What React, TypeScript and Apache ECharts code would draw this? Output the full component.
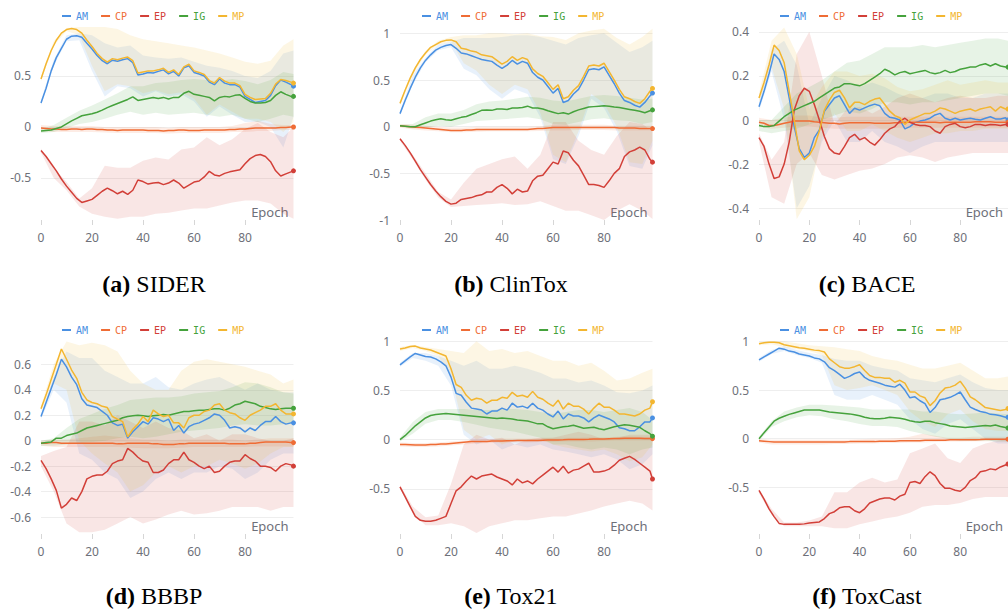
import React, { useEffect, useRef } from "react";
import * as echarts from "echarts";

// ---------- DATA ----------
const LINE_EPOCHS = [0,2,4,6,8,10,12,14,16,18,20,22,24,26,28,30,32,34,36,38,40,42,44,46,48,50,52,54,56,58,60,62,64,66,68,70,72,74,76,78,80,82,84,86,88,90,92,94,96,98,99];
const BAND_EPOCHS = [0,5,10,15,20,25,30,35,40,45,50,55,60,65,70,75,80,85,90,95,99];
const METHODS = ["AM", "CP", "EP", "IG", "MP"];
const X_TICKS = [0, 20, 40, 60, 80];

// (a) SIDER
const SIDER_AM = [.235,.38,.55,.68,.77,.86,.89,.895,.88,.82, .765,.70,.65,.62,.655,.645,.66,.67,.63,.51, .52,.535,.53,.545,.56,.52,.545,.50,.58,.60, .535,.52,.50,.44,.415,.47,.43,.415,.415,.39, .30,.27,.24,.25,.26,.31,.405,.46,.44,.415, .40];
const SIDER_MP = [.47,.62,.75,.85,.92,.955,.965,.955,.92,.85, .79,.72,.67,.635,.67,.66,.675,.685,.65,.53, .54,.55,.55,.56,.575,.535,.56,.515,.59,.615, .55,.535,.515,.455,.43,.485,.45,.43,.43,.405, .32,.29,.27,.275,.28,.33,.42,.465,.455,.44, .43];
const SIDER_IG = [-.04,-.035,-.03,-.015,0,.03,.06,.085,.11,.12, .13,.145,.165,.19,.21,.23,.25,.27,.295,.26, .27,.28,.29,.28,.29,.275,.29,.29,.33,.35, .32,.31,.30,.29,.255,.29,.30,.295,.31,.315, .28,.25,.235,.235,.24,.26,.31,.345,.32,.30, .30];
const SIDER_CP = [-.01,-.015,-.02,-.02,-.025,-.025,-.02,-.02,-.025,-.02, -.02,-.025,-.025,-.03,-.03,-.035,-.03,-.03,-.03,-.03, -.03,-.035,-.035,-.035,-.04,-.035,-.035,-.03,-.03,-.035, -.035,-.035,-.03,-.03,-.03,-.03,-.03,-.025,-.025,-.02, -.02,-.015,-.01,-.01,-.01,-.01,-.01,-.005,-.005,0, 0];
const SIDER_EP = [-.23,-.29,-.36,-.43,-.51,-.58,-.64,-.70,-.74,-.725, -.71,-.67,-.63,-.60,-.625,-.655,-.63,-.66,-.62,-.52, -.535,-.56,-.55,-.545,-.565,-.55,-.52,-.55,-.60,-.57, -.54,-.53,-.49,-.435,-.47,-.48,-.455,-.44,-.43,-.42, -.36,-.31,-.28,-.27,-.29,-.34,-.43,-.48,-.46,-.44, -.43];
const SIDER_AM_LO = [.21,.60,.84,.85,.55,.30,.40,.38,.30,.35,.30,.32,.25,.10,.20,.12,.05,.05,0,-.20,.10];
const SIDER_AM_HI = [.26,.66,.90,.92,.90,.82,.78,.80,.70,.68,.67,.68,.64,.60,.58,.55,.50,.48,.55,.72,.75];
const SIDER_MP_LO = [.45,.80,.94,.90,.60,.35,.42,.40,.33,.36,.32,.34,.28,.12,.22,.15,.08,.08,.05,-.05,.05];
const SIDER_MP_HI = [.49,.84,.97,.98,.98,.98,.96,.90,.86,.84,.82,.80,.78,.75,.72,.68,.64,.62,.65,.80,.86];
const SIDER_IG_LO = [-.06,-.05,-.01,.03,.05,.08,.12,.15,.12,.14,.12,.13,.14,.12,.10,.12,.08,.05,.08,.12,.10];
const SIDER_IG_HI = [-.02,.02,.09,.16,.21,.27,.33,.40,.40,.43,.44,.46,.47,.46,.45,.47,.45,.42,.46,.54,.52];
const SIDER_CP_LO = [-.04,-.05,-.05,-.05,-.05,-.055,-.06,-.06,-.06,-.06,-.065,-.06,-.06,-.06,-.06,-.05,-.05,-.04,-.04,-.03,-.03];
const SIDER_CP_HI = [.02,.01,.01,.01,.01,0,0,0,0,0,-.01,0,0,0,0,.01,.04,.06,.03,.02,.02];
const SIDER_EP_LO = [-.25,-.50,-.62,-.78,-.85,-.88,-.90,-.88,-.88,-.85,-.84,-.82,-.80,-.80,-.77,-.74,-.72,-.72,-.75,-.85,-.90];
const SIDER_EP_HI = [-.21,-.40,-.54,-.70,-.60,-.38,-.40,-.40,-.33,-.30,-.32,-.22,-.20,-.10,-.18,-.12,-.02,.04,-.05,-.10,0];

// (b) ClinTox
const CLINTOX_AM = [.14,.28,.41,.53,.63,.71,.77,.82,.85,.87, .88,.84,.79,.78,.76,.74,.72,.71,.70,.66, .625,.66,.71,.67,.70,.68,.58,.53,.50,.43, .36,.41,.26,.28,.35,.40,.50,.61,.62,.61, .64,.55,.46,.36,.28,.26,.23,.21,.26,.33, .36];
const CLINTOX_MP = [.25,.39,.52,.63,.72,.79,.85,.88,.91,.925, .93,.91,.84,.83,.81,.80,.77,.76,.75,.71, .67,.70,.75,.71,.74,.72,.62,.57,.54,.47, .40,.45,.30,.32,.39,.44,.54,.65,.66,.65, .68,.59,.50,.40,.32,.30,.27,.25,.30,.38, .41];
const CLINTOX_IG = [.01,.005,0,0,.02,.04,.06,.075,.085,.075, .07,.085,.10,.11,.13,.15,.175,.18,.175,.19, .19,.185,.20,.20,.205,.22,.20,.20,.19,.17, .155,.14,.15,.135,.16,.18,.195,.21,.215,.22, .225,.22,.21,.205,.195,.185,.175,.165,.15,.17, .18];
const CLINTOX_CP = [.01,.005,0,-.005,-.01,-.015,-.02,-.025,-.03,-.035, -.04,-.04,-.04,-.035,-.035,-.03,-.03,-.03,-.03,-.03, -.03,-.03,-.03,-.03,-.03,-.03,-.025,-.02,-.02,-.015, -.01,-.01,-.01,-.01,-.01,-.01,-.01,-.01,-.01,-.01, -.01,-.01,-.01,-.015,-.015,-.015,-.015,-.02,-.02,-.02, -.02];
const CLINTOX_EP = [-.13,-.20,-.28,-.37,-.46,-.54,-.62,-.69,-.75,-.80, -.83,-.82,-.78,-.77,-.76,-.74,-.73,-.70,-.70,-.65, -.62,-.66,-.72,-.67,-.70,-.69,-.58,-.53,-.52,-.45, -.38,-.40,-.26,-.28,-.36,-.42,-.52,-.62,-.62,-.63, -.65,-.58,-.50,-.45,-.32,-.27,-.25,-.22,-.25,-.35, -.38];
const CLINTOX_AM_LO = [.12,.45,.69,.82,.85,.62,.55,.40,.30,.40,.35,.10,-.35,-.40,-.10,.30,.20,-.05,-.42,-.45,-.20];
const CLINTOX_AM_HI = [.16,.55,.74,.88,.91,.95,.95,.95,.96,.98,.98,.96,.92,.88,.95,.98,1.0,.90,.80,.85,.92];
const CLINTOX_MP_LO = [.23,.55,.77,.88,.91,.68,.60,.45,.35,.45,.40,.15,-.30,-.38,-.05,.35,.25,0,-.38,-.40,-.15];
const CLINTOX_MP_HI = [.27,.60,.81,.92,.96,.98,.98,1.0,1.0,.99,1.0,.97,.96,.93,1.0,1.03,1.05,.95,.88,.96,1.05];
const CLINTOX_IG_LO = [0,-.02,-.01,.01,0,.03,.06,.07,.08,.09,.10,.08,.03,.02,.05,.08,.09,.07,.06,.03,.05];
const CLINTOX_IG_HI = [.02,.03,.10,.14,.14,.18,.24,.27,.28,.30,.32,.31,.28,.27,.30,.33,.34,.33,.31,.29,.30];
const CLINTOX_CP_LO = [-.01,-.03,-.04,-.05,-.06,-.06,-.055,-.05,-.05,-.05,-.05,-.045,-.04,-.04,-.035,-.035,-.035,-.04,-.04,-.04,-.04];
const CLINTOX_CP_HI = [.03,.02,.01,0,-.01,-.01,0,0,0,0,0,.005,.02,.02,.02,.02,.02,.01,.01,.01,.01];
const CLINTOX_EP_LO = [-.15,-.35,-.57,-.76,-.86,-.85,-.84,-.83,-.82,-.84,-.83,-.80,-.85,-.90,-.90,-.95,-1.0,-.90,-.83,-.90,-.99];
const CLINTOX_EP_HI = [-.12,-.30,-.50,-.70,-.78,-.60,-.45,-.40,-.35,-.32,-.45,-.30,.05,.05,-.15,-.25,-.30,-.10,.05,.03,-.05];

// (c) BACE
const BACE_AM = [.06,.13,.21,.30,.275,.22,.10,-.03,-.13,-.17, -.15,-.08,-.045,.04,.07,.10,.11,.07,.03,.053, .045,.055,.065,.072,.065,.03,.012,.008,0,-.04, -.03,-.012,-.005,0,.008,.023,.03,.008,0,.008, 0,.005,.008,.003,0,.008,.015,.005,.005,.01, 0];
const BACE_MP = [.10,.17,.25,.34,.315,.26,.13,0,-.14,-.18, -.16,-.12,-.05,.045,.09,.125,.135,.10,.055,.08, .08,.07,.085,.095,.10,.07,.04,.02,.01,-.02, 0,.01,.02,.03,.03,.04,.055,.05,.04,.03, .04,.045,.05,.04,.05,.055,.06,.04,.06,.05, .05];
const BACE_IG = [-.025,-.03,-.03,-.025,-.005,.015,.03,.045,.055,.065, .075,.085,.10,.115,.13,.145,.15,.165,.165,.16, .155,.165,.18,.195,.21,.23,.22,.205,.215,.22, .21,.215,.22,.225,.215,.21,.215,.225,.215,.22, .23,.235,.24,.24,.25,.255,.245,.255,.245,.24, .24];
const BACE_CP = [-.01,-.015,-.025,-.025,-.02,-.015,-.01,-.005,-.005,-.005, -.005,-.008,-.01,-.012,-.015,-.015,-.018,-.015,-.012,-.012, -.012,-.012,-.012,-.015,-.015,-.015,-.015,-.012,-.012,-.01, -.01,-.01,-.01,-.01,-.01,-.01,-.012,-.01,-.01,-.01, -.01,-.01,-.01,-.008,-.008,-.008,-.008,-.01,-.01,-.01, -.01];
const BACE_EP = [-.08,-.12,-.20,-.265,-.258,-.20,-.10,.045,.11,.144, .13,.07,0,-.075,-.13,-.15,-.155,-.12,-.08,-.065, -.09,-.08,-.10,-.114,-.09,-.06,-.04,-.03,-.005,.008, -.01,-.02,-.025,-.025,-.03,-.05,-.06,-.03,-.02,-.015, -.03,-.035,-.03,-.02,-.02,-.025,-.02,-.022,-.025,-.02, -.02];
const BACE_AM_LO = [.04,.22,0,-.40,-.30,-.10,0,-.10,-.10,-.05,-.10,-.12,-.15,-.12,-.10,-.10,-.10,-.10,-.10,-.10,-.10];
const BACE_AM_HI = [.08,.32,.36,.25,-.02,.10,.20,.18,.15,.17,.15,.12,.10,.10,.12,.12,.10,.10,.12,.12,.12];
const BACE_MP_LO = [.08,.24,.05,-.45,-.35,-.08,.03,-.05,-.05,-.02,-.05,-.08,-.10,-.08,-.06,-.06,-.05,-.05,-.04,-.04,-.04];
const BACE_MP_HI = [.12,.36,.42,.30,.05,.15,.22,.22,.20,.21,.19,.15,.13,.14,.16,.18,.16,.17,.18,.17,.17];
const BACE_IG_LO = [-.05,-.06,-.05,-.04,-.02,0,.02,.04,.03,.05,.08,.08,.07,.08,.08,.09,.10,.11,.12,.12,.11];
const BACE_IG_HI = [0,0,.06,.12,.15,.18,.22,.26,.27,.30,.33,.33,.33,.34,.33,.34,.35,.36,.37,.37,.36];
const BACE_CP_LO = [-.03,-.04,-.035,-.03,-.03,-.035,-.04,-.04,-.04,-.04,-.04,-.035,-.035,-.035,-.035,-.035,-.035,-.035,-.035,-.035,-.035];
const BACE_CP_HI = [.01,0,.01,.02,.02,.01,.01,.015,.015,.015,.015,.015,.015,.015,.015,.015,.015,.015,.015,.015,.015];
const BACE_EP_LO = [-.10,-.35,-.38,-.20,-.15,-.25,-.27,-.25,-.23,-.22,-.20,-.17,-.16,-.17,-.19,-.17,-.16,-.15,-.15,-.15,-.15];
const BACE_EP_HI = [-.06,-.18,-.10,.30,.40,.20,-.02,.05,.06,.03,.06,.10,.12,.10,.08,.10,.11,.10,.10,.11,.11];

// (d) BBBP
const BBBP_AM = [.19,.30,.41,.52,.64,.58,.50,.44,.33,.28, .27,.26,.23,.20,.14,.12,.13,.02,.07,.11, .15,.13,.18,.17,.15,.17,.08,.12,.06,.11, .13,.14,.16,.18,.21,.20,.16,.10,.11,.10, .07,.10,.08,.12,.15,.15,.19,.15,.13,.14, .14];
const BBBP_MP = [.25,.36,.48,.60,.72,.64,.555,.49,.38,.32, .30,.29,.27,.26,.19,.17,.15,.03,.09,.13, .19,.15,.24,.21,.19,.20,.14,.14,.10,.18, .20,.20,.23,.24,.28,.29,.24,.22,.21,.18, .16,.20,.22,.24,.27,.27,.29,.24,.21,.21, .21];
const BBBP_IG = [-.02,-.015,-.01,.02,.02,.04,.05,.06,.08,.10, .11,.12,.13,.14,.15,.16,.18,.19,.195,.20, .195,.19,.195,.20,.205,.20,.21,.22,.23,.23, .235,.24,.24,.245,.25,.25,.24,.255,.28,.29, .31,.30,.29,.27,.26,.25,.245,.25,.255,.255, .255];
const BBBP_CP = [-.02,-.02,-.015,-.015,-.02,-.02,-.02,-.02,-.02,-.02, -.02,-.02,-.02,-.02,-.02,-.025,-.025,-.02,-.02,-.02, -.02,-.02,-.025,-.025,-.03,-.03,-.03,-.025,-.025,-.02, -.02,-.02,-.02,-.02,-.02,-.02,-.02,-.025,-.025,-.025, -.025,-.02,-.02,-.015,-.01,-.01,-.01,-.01,-.01,-.015, -.015];
const BBBP_EP = [-.155,-.22,-.30,-.39,-.53,-.50,-.45,-.47,-.40,-.30, -.28,-.27,-.27,-.24,-.18,-.16,-.15,-.06,-.09,-.13, -.16,-.17,-.25,-.25,-.23,-.18,-.15,-.15,-.09,-.15, -.17,-.20,-.22,-.20,-.25,-.24,-.20,-.17,-.16,-.16, -.11,-.14,-.16,-.20,-.20,-.21,-.24,-.20,-.18,-.19, -.20];
const BBBP_AM_LO = [.17,.40,.30,-.10,-.15,-.25,-.30,-.45,-.40,-.30,-.25,-.30,-.25,-.25,-.20,-.22,-.30,-.25,-.15,-.10,-.10];
const BBBP_AM_HI = [.21,.50,.70,.65,.65,.55,.50,.45,.45,.50,.42,.40,.45,.48,.50,.45,.40,.45,.40,.38,.38];
const BBBP_MP_LO = [.23,.45,.40,0,-.10,-.18,-.25,-.40,-.35,-.25,-.20,-.25,-.20,-.20,-.15,-.18,-.22,-.18,-.10,-.05,-.05];
const BBBP_MP_HI = [.27,.60,.78,.75,.77,.75,.70,.55,.45,.40,.40,.55,.62,.64,.62,.60,.58,.55,.52,.45,.48];
const BBBP_IG_LO = [-.04,-.04,-.03,-.02,-.01,0,.02,.03,.02,.03,.05,.07,.08,.09,.10,.12,.13,.12,.12,.13,.14];
const BBBP_IG_HI = [0,.02,.10,.17,.21,.25,.28,.32,.33,.34,.34,.35,.37,.38,.39,.42,.46,.45,.42,.38,.37];
const BBBP_CP_LO = [-.04,-.05,-.05,-.05,-.05,-.05,-.05,-.055,-.06,-.06,-.06,-.055,-.05,-.05,-.05,-.05,-.05,-.045,-.045,-.045,-.045];
const BBBP_CP_HI = [0,.01,.01,.02,.03,.04,.03,.02,.01,.01,0,.01,.01,.01,.01,.01,0,.01,.02,.02,.02];
const BBBP_EP_LO = [-.20,-.40,-.65,-.72,-.72,-.70,-.65,-.60,-.65,-.62,-.58,-.55,-.58,-.57,-.55,-.52,-.52,-.52,-.55,-.52,-.52];
const BBBP_EP_HI = [-.12,-.08,-.05,.15,.15,.12,.20,.15,.10,.15,.10,.08,.02,.05,0,.05,.05,.02,0,0,.02];

// (e) Tox21
const TOX21_AM = [.76,.80,.84,.875,.86,.845,.84,.82,.79,.75, .635,.47,.45,.38,.32,.31,.30,.26,.29,.29, .32,.30,.37,.33,.34,.32,.37,.32,.30,.26, .23,.29,.21,.26,.24,.24,.22,.18,.22,.25, .23,.21,.18,.12,.11,.09,.09,.13,.18,.18, .22];
const TOX21_MP = [.92,.93,.945,.95,.93,.92,.91,.89,.87,.85, .72,.56,.53,.45,.40,.42,.41,.37,.40,.40, .43,.42,.48,.44,.45,.43,.49,.43,.41,.37, .34,.40,.31,.37,.34,.34,.31,.26,.32,.37, .33,.33,.30,.26,.26,.25,.24,.26,.30,.32, .385];
const TOX21_IG = [0,.04,.09,.14,.18,.22,.245,.255,.26,.265, .26,.255,.25,.245,.24,.235,.23,.225,.22,.215, .22,.215,.21,.20,.195,.19,.175,.16,.16,.13, .11,.12,.13,.135,.145,.13,.115,.12,.125,.11, .10,.115,.13,.14,.15,.145,.135,.125,.09,.06, .035];
const TOX21_CP = [-.05,-.05,-.052,-.055,-.055,-.055,-.05,-.05,-.045,-.045, -.04,-.035,-.03,-.025,-.02,-.02,-.02,-.018,-.015,-.015, -.015,-.012,-.012,-.01,-.01,-.01,-.008,-.008,-.006,-.005, -.005,-.003,-.002,0,0,0,.002,.003,.005,.005, .005,.008,.01,.012,.015,.015,.015,.015,.012,.01, .01];
const TOX21_EP = [-.48,-.58,-.68,-.78,-.82,-.83,-.83,-.82,-.80,-.78, -.65,-.52,-.48,-.42,-.37,-.40,-.37,-.36,-.35,-.38, -.40,-.42,-.46,-.40,-.44,-.42,-.45,-.40,-.36,-.32, -.28,-.33,-.27,-.34,-.31,-.30,-.27,-.24,-.33,-.33, -.32,-.30,-.26,-.21,-.19,-.17,-.20,-.24,-.28,-.32, -.40];
const TOX21_AM_LO = [.74,.83,.80,.75,.55,.05,-.05,0,-.10,-.05,-.08,-.05,-.10,-.12,-.15,-.18,-.15,-.20,-.30,-.25,-.15];
const TOX21_AM_HI = [.78,.88,.88,.85,.80,.75,.80,.72,.72,.75,.72,.68,.62,.62,.58,.60,.55,.48,.47,.50,.55];
const TOX21_MP_LO = [.90,.93,.90,.85,.65,.10,0,.05,-.05,0,-.02,0,-.05,-.08,-.10,-.12,-.10,-.15,-.22,-.18,-.05];
const TOX21_MP_HI = [.94,.96,.94,.92,.90,.88,1.0,.90,.92,.88,.90,.85,.80,.80,.75,.78,.70,.60,.62,.68,.72];
const TOX21_IG_LO = [-.02,.06,.16,.20,.20,.18,.15,.12,.10,.08,.05,.02,-.05,-.05,-.08,-.10,-.08,-.10,-.15,-.10,-.08];
const TOX21_IG_HI = [.02,.18,.28,.31,.31,.31,.30,.30,.31,.31,.30,.28,.26,.28,.30,.30,.28,.30,.32,.28,.20];
const TOX21_CP_LO = [-.07,-.075,-.075,-.07,-.06,-.05,-.04,-.035,-.03,-.03,-.03,-.025,-.025,-.02,-.02,-.02,-.015,-.01,-.01,-.01,-.01];
const TOX21_CP_HI = [-.03,-.035,-.035,-.03,-.02,-.01,0,.005,.01,.01,.01,.015,.02,.02,.02,.025,.025,.03,.035,.03,.03];
const TOX21_EP_LO = [-.50,-.75,-.87,-.87,-.85,-.88,-.95,-.88,-.85,-.82,-.82,-.80,-.78,-.78,-.75,-.72,-.68,-.65,-.62,-.65,-.72];
const TOX21_EP_HI = [-.46,-.68,-.79,-.77,-.45,-.05,.05,0,.02,-.05,0,.02,.02,.05,.08,.05,0,.02,.05,.05,.05];

// (f) ToxCast
const TOXCAST_AM = [.81,.84,.87,.90,.93,.92,.90,.89,.87,.86, .85,.83,.82,.79,.73,.70,.66,.62,.64,.67, .685,.63,.60,.585,.57,.55,.54,.53,.56,.50, .42,.43,.39,.36,.27,.32,.40,.41,.425,.45, .48,.40,.325,.30,.28,.27,.25,.245,.235,.22, .22];
const TOXCAST_MP = [.975,.985,.99,.99,.985,.965,.955,.945,.935,.93, .92,.91,.905,.89,.82,.78,.74,.725,.725,.74, .76,.70,.65,.63,.63,.62,.62,.58,.60,.57, .48,.48,.44,.42,.34,.39,.47,.52,.53,.55, .59,.52,.43,.40,.36,.32,.31,.30,.29,.30, .31];
const TOXCAST_IG = [0,.06,.12,.18,.21,.23,.25,.265,.28,.295, .295,.295,.295,.285,.275,.27,.265,.26,.255,.245, .235,.22,.21,.205,.205,.21,.22,.215,.21,.20, .185,.175,.17,.18,.18,.165,.155,.145,.13,.125, .12,.115,.12,.125,.13,.135,.13,.14,.125,.115, .11];
const TOXCAST_CP = [-.02,-.025,-.03,-.035,-.035,-.035,-.035,-.035,-.035,-.035, -.035,-.035,-.035,-.035,-.035,-.035,-.035,-.035,-.03,-.03, -.03,-.03,-.03,-.03,-.025,-.025,-.025,-.025,-.02,-.02, -.02,-.02,-.02,-.015,-.015,-.015,-.015,-.015,-.01,-.01, -.01,-.01,-.01,-.01,-.008,-.005,-.005,-.005,-.005,-.005, -.005];
const TOXCAST_EP = [-.53,-.62,-.72,-.80,-.87,-.88,-.88,-.88,-.88,-.875, -.865,-.86,-.855,-.82,-.77,-.75,-.71,-.70,-.70,-.74, -.76,-.72,-.66,-.64,-.62,-.61,-.61,-.63,-.59,-.57, -.45,-.44,-.46,-.39,-.34,-.38,-.46,-.51,-.51,-.53, -.54,-.50,-.43,-.40,-.34,-.33,-.31,-.32,-.29,-.27, -.26];
const TOXCAST_AM_LO = [.79,.87,.90,.86,.83,.78,.45,.40,.40,.45,.40,.35,.20,.10,.05,.15,.20,.10,0,-.05,-.05];
const TOXCAST_AM_HI = [.83,.91,.95,.91,.88,.86,.82,.80,.80,.75,.72,.70,.62,.60,.58,.62,.66,.58,.52,.50,.50];
const TOXCAST_MP_LO = [.96,.97,.94,.92,.90,.86,.55,.50,.52,.55,.50,.45,.28,.18,.12,.25,.30,.18,.10,.08,.08];
const TOXCAST_MP_HI = [.99,1.0,1.0,.98,.96,.95,.94,.92,.90,.85,.82,.80,.76,.72,.72,.75,.78,.70,.62,.62,.64];
const TOXCAST_IG_LO = [-.02,.12,.18,.22,.24,.23,.20,.18,.15,.13,.13,.12,.08,.05,.02,0,-.02,-.02,-.02,-.03,-.03];
const TOXCAST_IG_HI = [.02,.18,.28,.32,.35,.35,.34,.33,.32,.30,.30,.30,.30,.28,.28,.26,.25,.26,.27,.26,.25];
const TOXCAST_CP_LO = [-.04,-.06,-.06,-.06,-.06,-.06,-.055,-.055,-.05,-.05,-.045,-.045,-.04,-.04,-.035,-.03,-.03,-.025,-.025,-.025,-.025];
const TOXCAST_CP_HI = [0,-.01,-.01,-.01,-.01,-.01,-.01,-.01,-.005,0,0,.005,.02,.05,.03,.01,.01,.02,.02,.02,.02];
const TOXCAST_EP_LO = [-.56,-.78,-.90,-.90,-.90,-.90,-.92,-.92,-.88,-.85,-.82,-.80,-.76,-.70,-.68,-.68,-.66,-.62,-.60,-.60,-.60];
const TOXCAST_EP_HI = [-.52,-.72,-.86,-.86,-.84,-.80,-.55,-.55,-.45,-.40,-.45,-.42,-.15,-.10,-.05,-.20,-.25,-.10,-.05,-.02,0];

const PANELS = [
  { tag: "a", name: "SIDER",
    lines: { AM: SIDER_AM, CP: SIDER_CP, EP: SIDER_EP, IG: SIDER_IG, MP: SIDER_MP },
    bands: { AM: [SIDER_AM_LO, SIDER_AM_HI], CP: [SIDER_CP_LO, SIDER_CP_HI], EP: [SIDER_EP_LO, SIDER_EP_HI], IG: [SIDER_IG_LO, SIDER_IG_HI], MP: [SIDER_MP_LO, SIDER_MP_HI] } },
  { tag: "b", name: "ClinTox",
    lines: { AM: CLINTOX_AM, CP: CLINTOX_CP, EP: CLINTOX_EP, IG: CLINTOX_IG, MP: CLINTOX_MP },
    bands: { AM: [CLINTOX_AM_LO, CLINTOX_AM_HI], CP: [CLINTOX_CP_LO, CLINTOX_CP_HI], EP: [CLINTOX_EP_LO, CLINTOX_EP_HI], IG: [CLINTOX_IG_LO, CLINTOX_IG_HI], MP: [CLINTOX_MP_LO, CLINTOX_MP_HI] } },
  { tag: "c", name: "BACE",
    lines: { AM: BACE_AM, CP: BACE_CP, EP: BACE_EP, IG: BACE_IG, MP: BACE_MP },
    bands: { AM: [BACE_AM_LO, BACE_AM_HI], CP: [BACE_CP_LO, BACE_CP_HI], EP: [BACE_EP_LO, BACE_EP_HI], IG: [BACE_IG_LO, BACE_IG_HI], MP: [BACE_MP_LO, BACE_MP_HI] } },
  { tag: "d", name: "BBBP",
    lines: { AM: BBBP_AM, CP: BBBP_CP, EP: BBBP_EP, IG: BBBP_IG, MP: BBBP_MP },
    bands: { AM: [BBBP_AM_LO, BBBP_AM_HI], CP: [BBBP_CP_LO, BBBP_CP_HI], EP: [BBBP_EP_LO, BBBP_EP_HI], IG: [BBBP_IG_LO, BBBP_IG_HI], MP: [BBBP_MP_LO, BBBP_MP_HI] } },
  { tag: "e", name: "Tox21",
    lines: { AM: TOX21_AM, CP: TOX21_CP, EP: TOX21_EP, IG: TOX21_IG, MP: TOX21_MP },
    bands: { AM: [TOX21_AM_LO, TOX21_AM_HI], CP: [TOX21_CP_LO, TOX21_CP_HI], EP: [TOX21_EP_LO, TOX21_EP_HI], IG: [TOX21_IG_LO, TOX21_IG_HI], MP: [TOX21_MP_LO, TOX21_MP_HI] } },
  { tag: "f", name: "ToxCast",
    lines: { AM: TOXCAST_AM, CP: TOXCAST_CP, EP: TOXCAST_EP, IG: TOXCAST_IG, MP: TOXCAST_MP },
    bands: { AM: [TOXCAST_AM_LO, TOXCAST_AM_HI], CP: [TOXCAST_CP_LO, TOXCAST_CP_HI], EP: [TOXCAST_EP_LO, TOXCAST_EP_HI], IG: [TOXCAST_IG_LO, TOXCAST_IG_HI], MP: [TOXCAST_MP_LO, TOXCAST_MP_HI] } },
];

// ---------- AXIS RANGES ----------
const Y_MIN = [-0.912, -1, -0.4537, -0.733, -0.959, -0.979];
const Y_MAX = [0.99, 1.079, 0.4265, 0.791, 1.012, 1.014];
const Y_SPLIT = [4, 4, 5, 7, 4, 4];
const Y_MIN_IS_TICK = [false, true, false, false, false, false];

// ---------- LAYOUT / STYLE ----------
const W = 1008, H = 609;
const COL_LEFT = [41, 400, 759];
const ROW_TOP = [26, 340];
const GRID_W = 252.5, GRID_H = 194;
const LEGEND_LEFT = [62, 422, 780];
const LEGEND_TOP = [11, 325];
const CAPTION_X = [154, 511, 867];
const CAPTION_Y = [284, 596];
const COLORS: Record<string, string> = {
  AM: "#4a90e2", CP: "#ef6c35", EP: "#d23f38", IG: "#45a23c", MP: "#f3b630",
};
const BAND_OPACITY = 0.13;
const LABEL_COLOR = "#6e7079";
const SANS = "'Noto Sans', 'Open Sans', sans-serif";
const SERIF = "'Liberation Serif', 'Times New Roman', serif";

function buildOption() {
  const grid: any[] = [], xAxis: any[] = [], yAxis: any[] = [], legend: any[] = [], graphic: any[] = [];
  const bandSeries: any[] = [], lineSeries: any[] = [];

  PANELS.forEach((p, i) => {
    const col = i % 3, row = Math.floor(i / 3);
    grid.push({ left: COL_LEFT[col], top: ROW_TOP[row], width: GRID_W, height: GRID_H, containLabel: false });
    xAxis.push({
      gridIndex: i, type: "value", min: X_TICKS[0], max: 99, interval: X_TICKS[1] - X_TICKS[0],
      axisLine: { show: false, onZero: false },
      axisTick: { show: true, length: 5, lineStyle: { color: "#d6d6d6" } },
      axisLabel: { color: LABEL_COLOR, fontFamily: SANS, fontSize: 12, margin: 11, showMaxLabel: false },
      splitLine: { show: false },
      name: "Epoch", nameLocation: "end", nameGap: -5,
      nameTextStyle: { align: "right", verticalAlign: "bottom", color: LABEL_COLOR, fontFamily: SANS, fontSize: 13, padding: [0, 0, 2, 0] },
    });
    yAxis.push({
      gridIndex: i, type: "value", min: Y_MIN[i], max: Y_MAX[i], splitNumber: Y_SPLIT[i],
      axisLine: { show: false }, axisTick: { show: false },
      axisLabel: { color: LABEL_COLOR, fontFamily: SANS, fontSize: 12, margin: 10, showMinLabel: Y_MIN_IS_TICK[i], showMaxLabel: false },
      splitLine: { show: true, showMinLine: false, showMaxLine: false, lineStyle: { color: "#eeeeee", width: 1 } },
    });
    legend.push({
      left: LEGEND_LEFT[col], top: LEGEND_TOP[row], padding: 0, icon: "rect",
      itemWidth: 9, itemHeight: 2, itemGap: 13, selectedMode: false,
      data: METHODS.map((m) => ({ name: m, textStyle: { color: COLORS[m] } })),
      textStyle: { fontFamily: "'DejaVu Sans Mono', monospace", fontSize: 10 },
    });
    graphic.push({
      type: "text", x: CAPTION_X[col], y: CAPTION_Y[row],
      style: {
        text: `{b|(${p.tag})} ${p.name}`,
        fontFamily: SERIF, fontSize: 24, fill: "#000", align: "center", verticalAlign: "middle",
        rich: { b: { fontFamily: SERIF, fontSize: 24, fontWeight: "bold", fill: "#000" } },
      },
    });

    METHODS.forEach((m) => {
      const [lo, hi] = (p.bands as any)[m] as number[][];
      const color = COLORS[m];
      bandSeries.push({
        type: "custom", name: `${m} band`, xAxisIndex: i, yAxisIndex: i, silent: true, z: 1,
        data: BAND_EPOCHS.map((e, k) => [e, lo[k], hi[k]]),
        encode: { x: 0, y: [1, 2] },
        renderItem: (params: any, api: any) => {
          if (params.dataIndex !== 0) return null;
          const top = BAND_EPOCHS.map((e, k) => api.coord([e, hi[k]]));
          const bottom = BAND_EPOCHS.map((e, k) => api.coord([e, lo[k]])).reverse();
          return {
            type: "polygon",
            shape: { points: top.concat(bottom) },
            style: { fill: color, opacity: BAND_OPACITY, stroke: "none" },
          };
        },
      });
      const vals = (p.lines as any)[m] as number[];
      const last = LINE_EPOCHS.length - 1;
      lineSeries.push({
        type: "line", name: m, xAxisIndex: i, yAxisIndex: i, color,
        symbol: "circle", symbolSize: 5, showSymbol: true, showAllSymbol: true,
        data: LINE_EPOCHS.map((e, k) => (k === last ? { value: [e, vals[k]], symbol: "circle", symbolSize: 5 } : { value: [e, vals[k]], symbol: "none" })),
        lineStyle: { width: 1.5, color }, itemStyle: { color }, z: 3,
      });
    });
  });

  return {
    animation: false,
    backgroundColor: "#ffffff",
    grid, xAxis, yAxis, legend, graphic,
    series: [...bandSeries, ...lineSeries],
  };
}

export default function App() {
  const ref = useRef<HTMLDivElement>(null);
  useEffect(() => {
    if (!ref.current) return;
    const chart = echarts.init(ref.current, undefined, { renderer: "svg", width: W, height: H });
    chart.setOption(buildOption() as any);
    return () => chart.dispose();
  }, []);
  return <div ref={ref} style={{ position: "absolute", left: 0, top: 0, width: W, height: H, background: "#fff" }} />;
}
